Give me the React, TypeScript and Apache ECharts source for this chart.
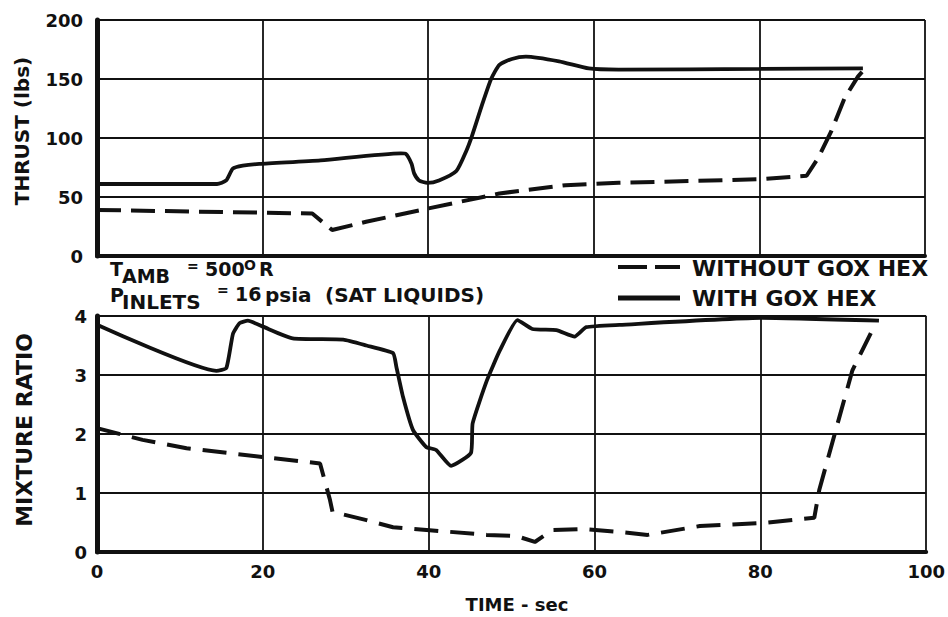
import React, { useEffect, useRef } from "react";
import * as echarts from "echarts";

// ---- Data ----
const thrustWithTime = [0, 14.5, 15.6, 16.4, 17.6, 19.6, 27, 36.7, 37.3, 38.0, 38.3, 38.9, 39.9, 41.3, 43.4, 44.6, 45.3, 46.5, 47.6, 48.6, 50.1, 51.8, 55.8, 59.4, 63, 80, 92.5];
const thrustWithValue = [61, 61, 64, 74, 76.5, 78, 81, 87, 86.5, 78, 70, 64, 62, 64, 72, 89, 102, 128, 150, 162, 167, 169, 165, 159, 158, 158.5, 159];

const thrustWithoutTime = [0, 26, 28.4, 32.5, 39.8, 48.6, 56.6, 63, 79.9, 85.7, 87.1, 88.7, 90.3, 91.9, 92.4];
const thrustWithoutValue = [39, 36, 22, 29, 40, 53, 60, 62, 65, 68, 83, 106, 134, 152, 156];

const mrWithTime = [0, 14.4, 15.6, 16.4, 17.2, 18.2, 20, 23.6, 29.7, 32.5, 35.7, 36.1, 36.9, 38.1, 39.7, 40.9, 42.7, 45.1, 45.3, 47, 48.6, 50.7, 52.5, 55.4, 57.6, 59, 63, 80.2, 94.3];
const mrWithValue = [3.85, 3.07, 3.12, 3.7, 3.88, 3.92, 3.82, 3.62, 3.6, 3.5, 3.37, 3.14, 2.63, 2.07, 1.78, 1.73, 1.46, 1.68, 2.18, 2.9, 3.42, 3.93, 3.78, 3.76, 3.65, 3.81, 3.85, 3.97, 3.92];

const mrWithoutTime = [0, 5.5, 10.8, 20, 26.9, 28.1, 28.4, 32.5, 35.7, 40.1, 47, 50.6, 52.8, 54.9, 58.6, 63, 66.4, 72.7, 80.2, 86.5, 87.1, 89.2, 91.1, 93.5, 94];
const mrWithoutValue = [2.1, 1.9, 1.76, 1.61, 1.5, 0.88, 0.68, 0.54, 0.42, 0.37, 0.29, 0.27, 0.17, 0.37, 0.39, 0.34, 0.29, 0.44, 0.49, 0.58, 1.05, 2.12, 3.08, 3.76, 3.88];

const seriesNames = ["WITHOUT GOX HEX", "WITH GOX HEX"];
const thrustAxisName = "THRUST (lbs)";
const mrAxisName = "MIXTURE RATIO";
const timeAxisName = "TIME - sec";

const zip = (t: number[], v: number[]) => t.map((x, i) => [x, v[i]]);

const INK = "#111";
const FONT = "'DejaVu Sans', 'Liberation Sans', sans-serif";

function txt(text: string, x: number, y: number, size: number, extra: any = {}) {
  return {
    type: "text",
    x,
    y,
    silent: true,
    ...extra,
    style: {
      text,
      fill: INK,
      fontSize: size,
      fontWeight: "bold",
      fontFamily: FONT,
      align: extra.align || "left",
      textAlign: extra.align || "left",
      verticalAlign: "middle",
      textVerticalAlign: "middle",
    },
  };
}

export default function App() {
  const ref = useRef<HTMLDivElement>(null);

  useEffect(() => {
    document.body.style.margin = "0";
    if (!ref.current) return;
    const chart = echarts.init(ref.current, undefined, { renderer: "svg" });

    const axisLabel = {
      color: INK,
      fontSize: 18,
      fontWeight: "bold",
      fontFamily: FONT,
    };
    const splitLine = { show: true, lineStyle: { color: INK, width: 1.8 } };

    const option: any = {
      animation: false,
      backgroundColor: "#fff",
      grid: [
        { left: 97, right: 23, top: 20, height: 236 },
        { left: 97, right: 18, top: 316, height: 236 },
      ],
      xAxis: [
        {
          type: "value",
          gridIndex: 0,
          min: 0,
          max: 100,
          interval: 20,
          axisLine: { show: true, lineStyle: { color: INK, width: 4 } },
          axisTick: { show: false },
          axisLabel: { show: false },
          splitLine,
        },
        {
          type: "value",
          gridIndex: 1,
          min: 0,
          max: 100,
          interval: 20,
          axisLine: { show: true, lineStyle: { color: INK, width: 4 } },
          axisTick: { show: false },
          axisLabel: { ...axisLabel, margin: 10 },
          splitLine,
        },
      ],
      yAxis: [
        {
          type: "value",
          gridIndex: 0,
          min: 0,
          max: 200,
          interval: 50,
          axisLine: { show: true, lineStyle: { color: INK, width: 5 } },
          axisTick: { show: false },
          axisLabel: { ...axisLabel, margin: 14 },
          splitLine,
        },
        {
          type: "value",
          gridIndex: 1,
          min: 0,
          max: 4,
          interval: 1,
          axisLine: { show: true, lineStyle: { color: INK, width: 5 } },
          axisTick: { show: false },
          axisLabel: { ...axisLabel, margin: 10 },
          splitLine,
        },
      ],
      series: [
        {
          name: seriesNames[0],
          type: "line",
          xAxisIndex: 0,
          yAxisIndex: 0,
          data: zip(thrustWithoutTime, thrustWithoutValue),
          showSymbol: false,
          symbol: "none",
          lineStyle: { color: INK, width: 4, type: [24, 10] },
          z: 5,
        },
        {
          name: seriesNames[1],
          type: "line",
          xAxisIndex: 0,
          yAxisIndex: 0,
          data: zip(thrustWithTime, thrustWithValue),
          showSymbol: false,
          symbol: "none",
          smooth: 0.2,
          lineStyle: { color: INK, width: 3.8 },
          z: 5,
        },
        {
          name: seriesNames[0],
          type: "line",
          xAxisIndex: 1,
          yAxisIndex: 1,
          data: zip(mrWithoutTime, mrWithoutValue),
          showSymbol: false,
          symbol: "none",
          lineStyle: { color: INK, width: 4, type: [24, 12] },
          z: 5,
        },
        {
          name: seriesNames[1],
          type: "line",
          xAxisIndex: 1,
          yAxisIndex: 1,
          data: zip(mrWithTime, mrWithValue),
          showSymbol: false,
          symbol: "none",
          smooth: 0.15,
          lineStyle: { color: INK, width: 3.8 },
          z: 5,
        },
      ],
      graphic: [
        txt(thrustAxisName, 22, 131, 20, { rotation: Math.PI / 2, align: "center" }),
        txt(mrAxisName, 24, 430, 22, { rotation: Math.PI / 2, align: "center" }),
        txt(timeAxisName, 517, 604, 18, { align: "center" }),
        // annotations
        txt("T", 110, 269, 19),
        txt("AMB", 122, 276, 19),
        txt("=", 187, 266, 14),
        txt("500", 205, 269, 19),
        txt("O", 244, 265, 14),
        txt("R", 259, 269, 19),
        txt("P", 110, 295, 19),
        txt("INLETS", 122, 302, 20),
        txt("=", 217, 290, 14),
        txt("16", 235, 294, 19),
        txt("psia", 265, 295, 20),
        txt("(SAT LIQUIDS)", 325, 295, 20),
        // legend
        {
          type: "line",
          silent: true,
          shape: { x1: 618, y1: 267, x2: 647, y2: 267 },
          style: { stroke: INK, lineWidth: 4 },
        },
        {
          type: "line",
          silent: true,
          shape: { x1: 655, y1: 267, x2: 680, y2: 267 },
          style: { stroke: INK, lineWidth: 4 },
        },
        {
          type: "line",
          silent: true,
          shape: { x1: 618, y1: 298, x2: 680, y2: 298 },
          style: { stroke: INK, lineWidth: 5 },
        },
        txt(seriesNames[0], 692, 268, 22),
        txt(seriesNames[1], 692, 298, 22),
      ],
    };

    chart.setOption(option);
    return () => chart.dispose();
  }, []);

  return <div ref={ref} style={{ width: 948, height: 617 }} />;
}
